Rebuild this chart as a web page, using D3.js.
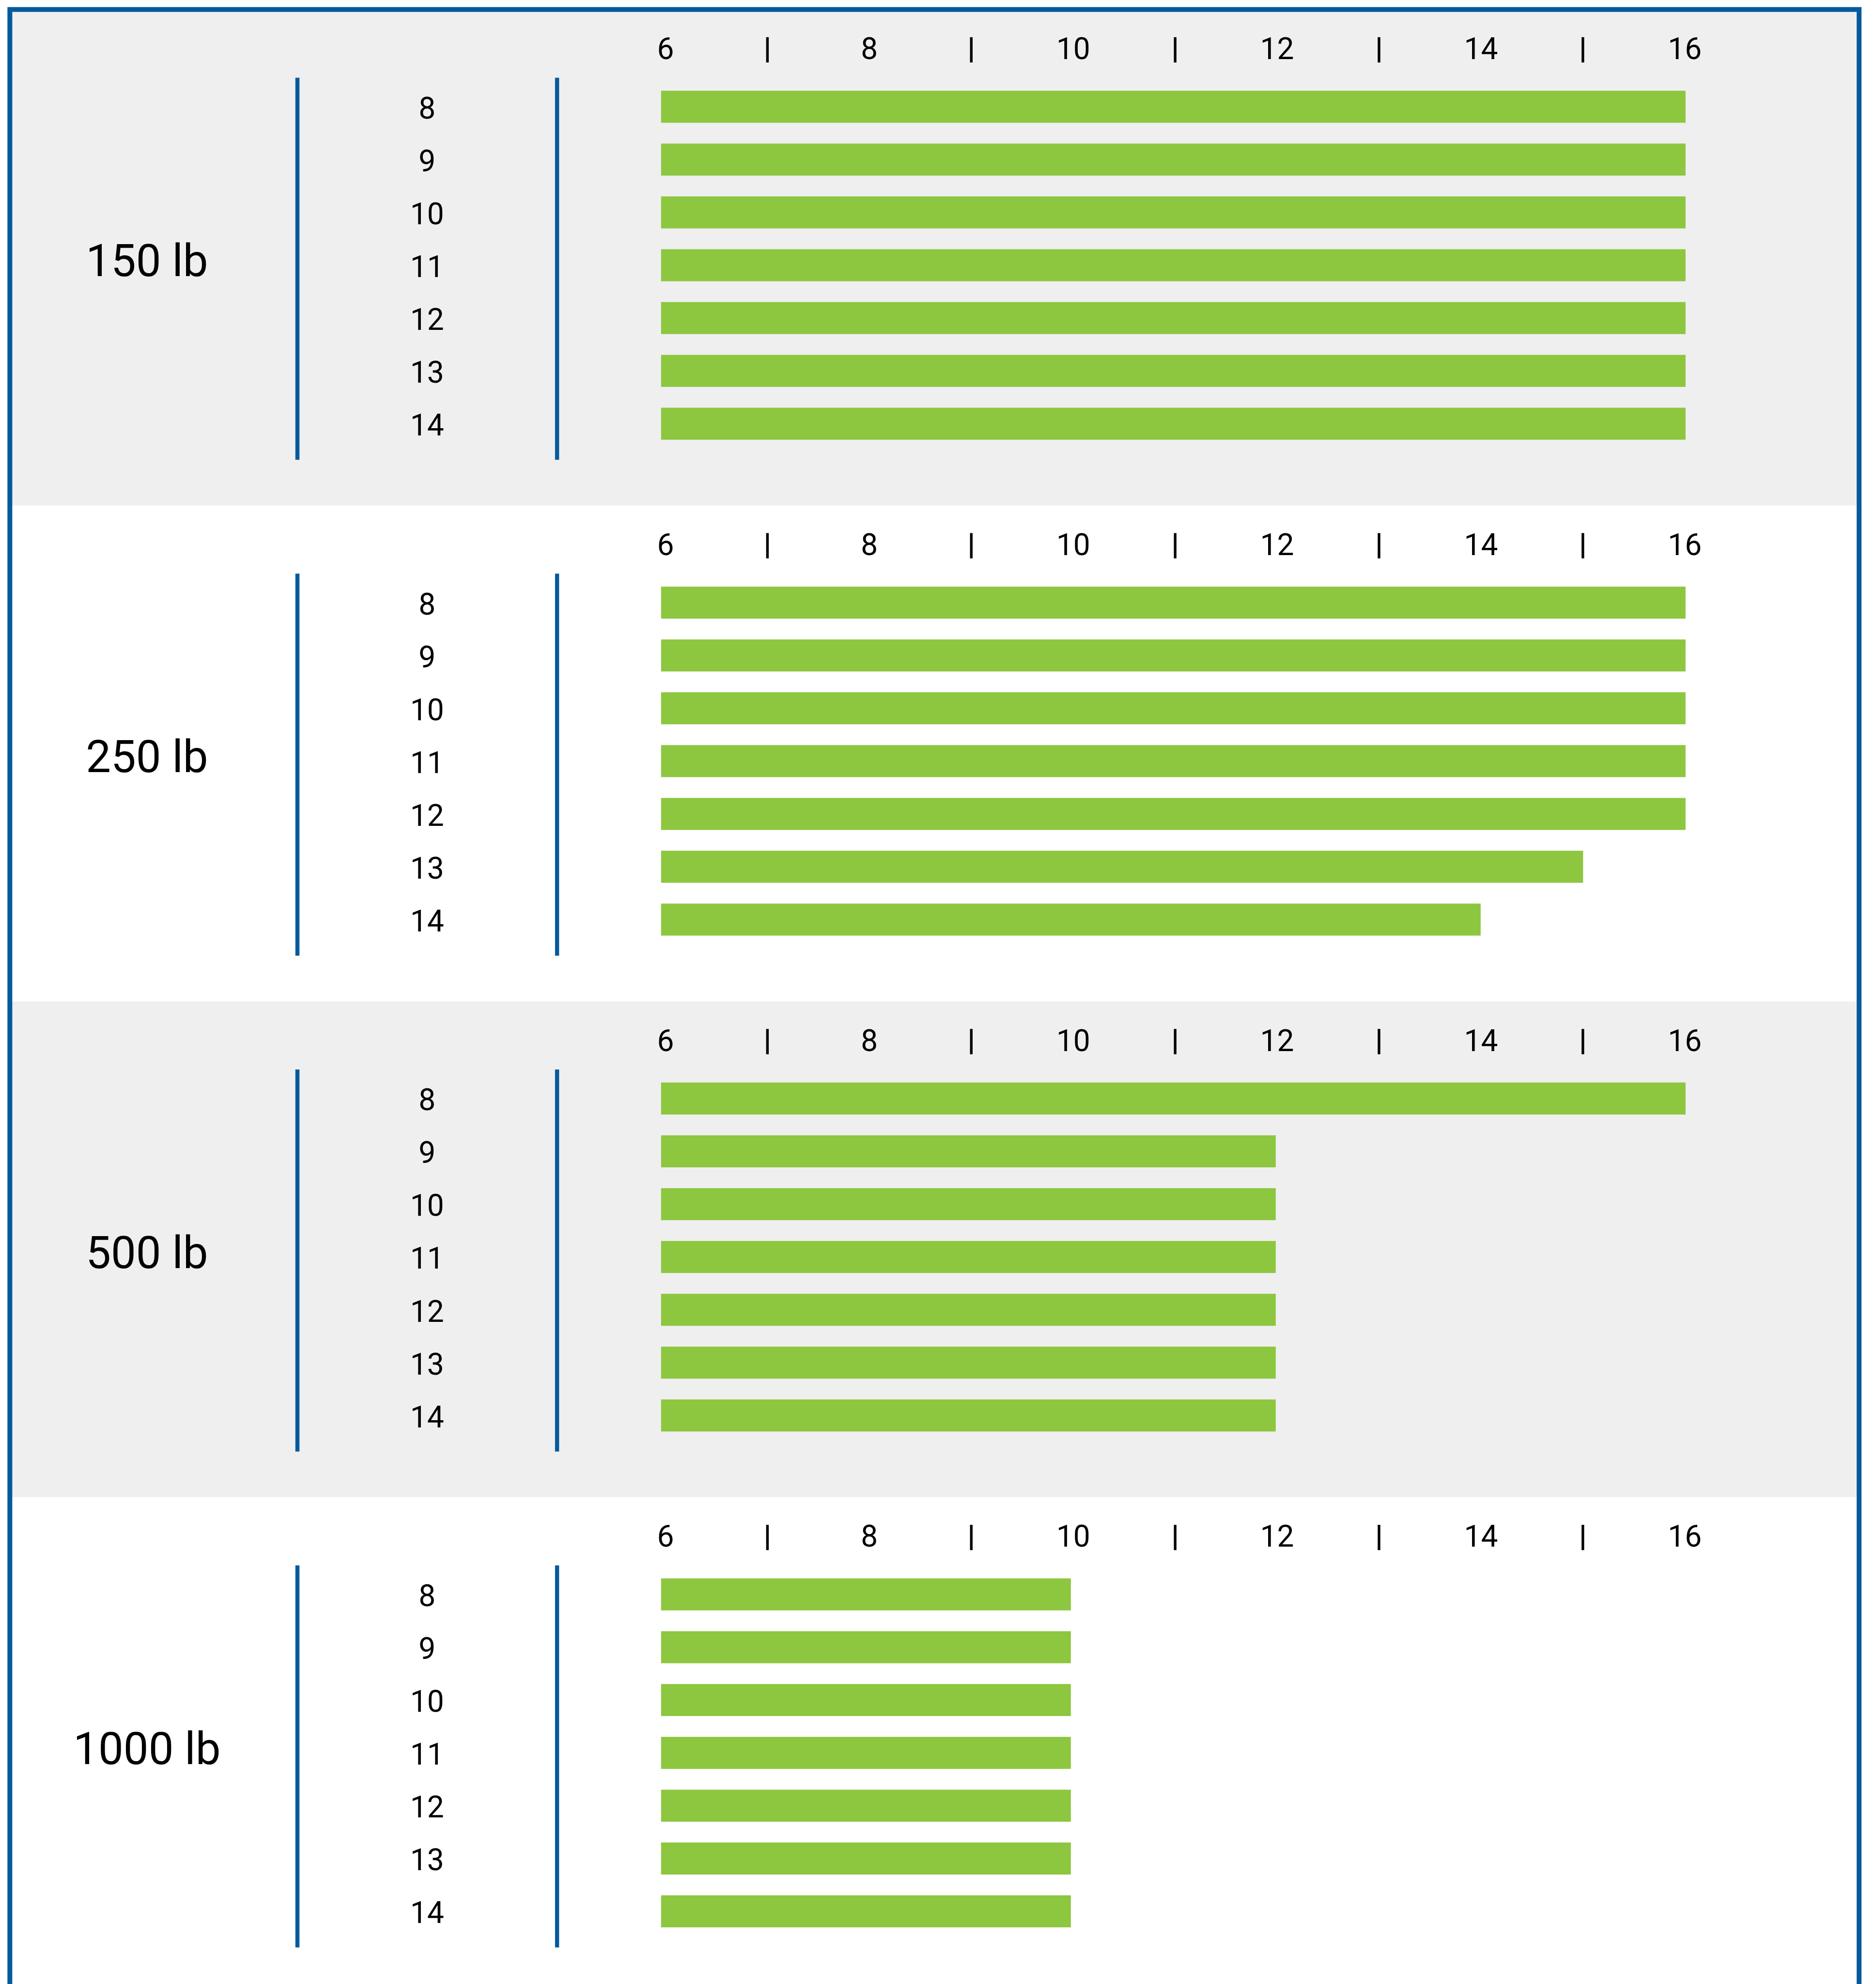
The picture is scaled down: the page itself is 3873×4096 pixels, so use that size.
<!DOCTYPE html>
<html>
<head>
<meta charset="utf-8">
<script src="https://cdn.jsdelivr.net/npm/d3@7"></script>
<style>
  html, body { margin: 0; padding: 0; background: #ffffff; }
  svg { display: block; }
  text { font-family: Roboto, "Open Sans", sans-serif; fill: #000000; }
</style>
</head>
<body>
<svg id="chart" width="3873" height="4096"></svg>
<script>
// weight classes (one panel each) and the rows inside every panel
var categories = ['150 lb', '250 lb', '500 lb', '1000 lb'];
var rows = [8, 9, 10, 11, 12, 13, 14];

// bar values per panel
var values150 = [16, 16, 16, 16, 16, 16, 16];
var values250 = [16, 16, 16, 16, 16, 15, 14];
var values500 = [16, 12, 12, 12, 12, 12, 12];
var values1000 = [10, 10, 10, 10, 10, 10, 10];

// axis labels and the "|" separators between them
var tickLabels = [6, 8, 10, 12, 14, 16];
var tickMarks = [7, 9, 11, 13, 15];

var seriesByCategory = [values150, values250, values500, values1000];

var blue = '#065a9c';
var green = '#8dc63f';
var grey = '#efefef';

var svg = d3.select('#chart');

// everything is laid out in the reference's pixel space, then scaled down
var root = svg.append('g').attr('transform', 'scale(0.768)');

var panelH = 1333;
var panelY = d3.scaleBand()
    .domain(categories)
    .range([26, 26 + categories.length * panelH]);

var rowY = d3.scaleBand()
    .domain(rows)
    .range([190, 1184])
    .paddingInner(0.394)
    .paddingOuter(0.197);

var barX = d3.scaleLinear().domain([6, 16]).range([1777, 4531]);
var tickX = d3.scaleLinear().domain([6, 16]).range([1789, 4529]);

var labelSize = 81;
var titleSize = 120;
var baselineShift = 0.711 * labelSize / 2 + 3;

var panels = root.selectAll('.panel')
    .data(categories)
    .enter()
    .append('g')
    .attr('class', 'panel')
    .attr('transform', function(d) { return 'translate(0,' + panelY(d) + ')'; });

// alternating background
panels.append('rect')
    .attr('x', 26)
    .attr('y', 0)
    .attr('width', 4966)
    .attr('height', panelH)
    .attr('fill', function(d, i) { return i % 2 === 0 ? grey : '#ffffff'; });

// panel title
panels.append('text')
    .attr('x', 395)
    .attr('y', rowY(11) + rowY.bandwidth() / 2 + baselineShift - 2)
    .attr('text-anchor', 'middle')
    .style('font-size', titleSize + 'px')
    .text(function(d) { return d; });

// two blue rules around the row labels
panels.selectAll('.rule')
    .data([799.5, 1497.5])
    .enter()
    .append('line')
    .attr('class', 'rule')
    .attr('x1', function(d) { return d; })
    .attr('x2', function(d) { return d; })
    .attr('y1', 183)
    .attr('y2', 1210)
    .attr('stroke', blue)
    .attr('stroke-width', 11);

// row labels
panels.selectAll('.rowlabel')
    .data(rows)
    .enter()
    .append('text')
    .attr('class', 'rowlabel')
    .attr('x', 1148)
    .attr('y', function(d) { return rowY(d) + rowY.bandwidth() / 2 + baselineShift; })
    .attr('text-anchor', 'middle')
    .style('font-size', labelSize + 'px')
    .text(function(d) { return d; });

// top axis labels
panels.selectAll('.ticklabel')
    .data(tickLabels)
    .enter()
    .append('text')
    .attr('class', 'ticklabel')
    .attr('x', function(d) { return tickX(d); })
    .attr('y', 133)
    .attr('text-anchor', 'middle')
    .style('font-size', labelSize + 'px')
    .text(function(d) { return d; });

panels.selectAll('.tickmark')
    .data(tickMarks)
    .enter()
    .append('line')
    .attr('class', 'tickmark')
    .attr('x1', function(d) { return tickX(d); })
    .attr('x2', function(d) { return tickX(d); })
    .attr('y1', 74)
    .attr('y2', 142)
    .attr('stroke', '#000000')
    .attr('stroke-width', 7);

// bars
panels.each(function(cat, i) {
    var vals = seriesByCategory[i];
    d3.select(this).selectAll('.bar')
        .data(rows.map(function(r, j) { return { row: r, value: vals[j] }; }))
        .enter()
        .append('rect')
        .attr('class', 'bar')
        .attr('x', barX(6))
        .attr('y', function(d) { return rowY(d.row); })
        .attr('width', function(d) { return barX(d.value) - barX(6); })
        .attr('height', rowY.bandwidth())
        .attr('fill', green);
});

// outer frame, bottom edge runs off the picture
root.append('rect')
    .attr('x', 26.5)
    .attr('y', 25.5)
    .attr('width', 4971)
    .attr('height', 5400)
    .attr('fill', 'none')
    .attr('stroke', blue)
    .attr('stroke-width', 13);
</script>
</body>
</html>
